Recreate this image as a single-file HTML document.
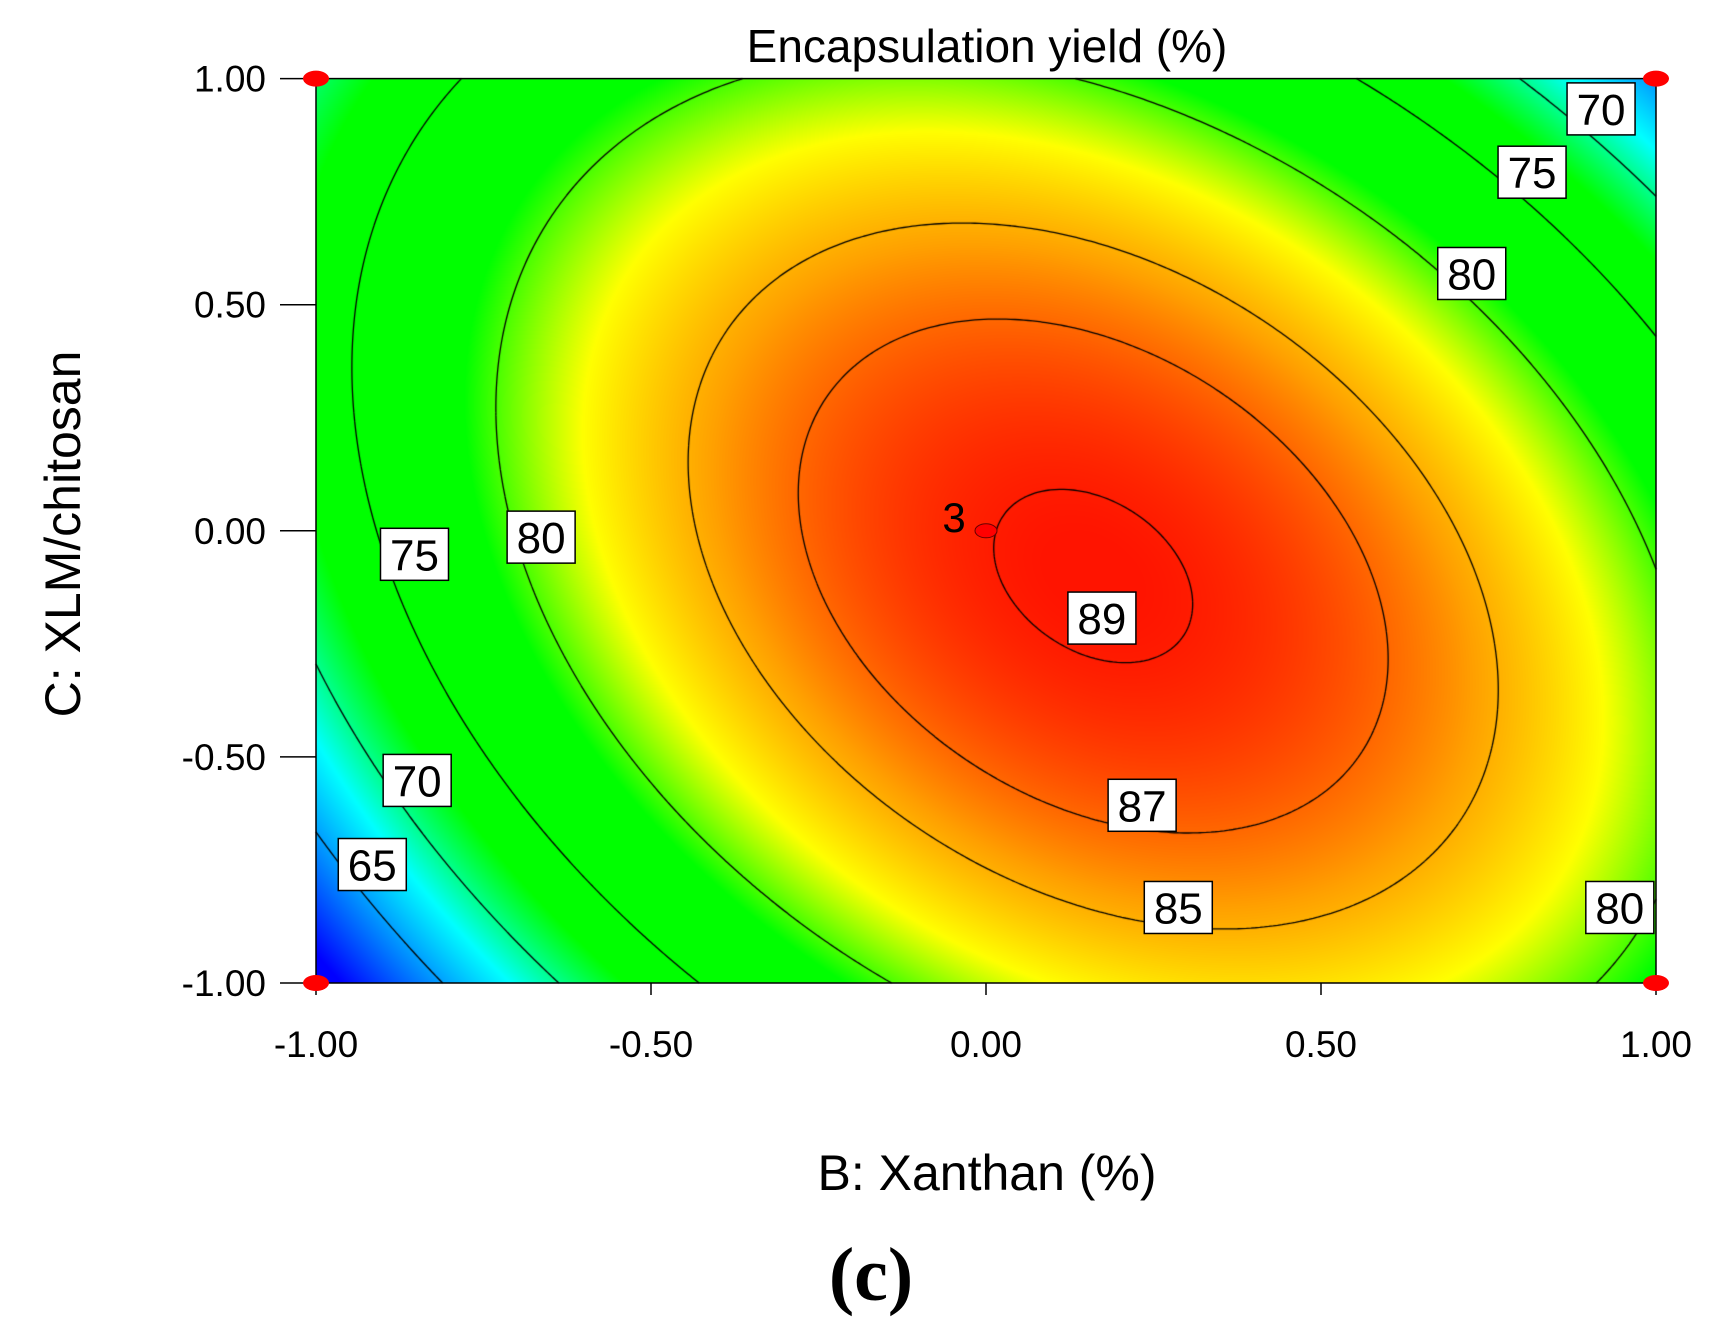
<!DOCTYPE html>
<html><head><meta charset="utf-8">
<style>
html,body{margin:0;padding:0;background:#fff;}
#wrap{position:relative;width:1720px;height:1324px;overflow:hidden;font-family:"Liberation Sans",sans-serif;}
canvas{position:absolute;left:0;top:0;}
svg{position:absolute;left:0;top:0;}
</style></head>
<body>
<div id="wrap">
<canvas id="cv" width="1720" height="1324"></canvas>
<svg id="sv" width="1720" height="1324"></svg>
</div>
<script>
// Model: yield = c0 + a*B + b*C + d*B*C + e*B^2 + g*C^2
const coefNames = ["c0","a","b","d","e","g"];
const coefValues = [88.95, 3.51, -0.52, -6.5, -13, -7.8];
const contourLevels = [65, 70, 75, 80, 85, 87, 89];
const xTicks = [-1, -0.5, 0, 0.5, 1];
const yTicks = [-1, -0.5, 0, 0.5, 1];
const xTickLabels = ["-1.00","-0.50","0.00","0.50","1.00"];
const yTickLabels = ["-1.00","-0.50","0.00","0.50","1.00"];
const designB = [-1, 1, -1, 1, 0];
const designC = [-1, -1, 1, 1, 0];
const labelTexts = ["70","75","80","75","80","70","65","89","87","85","80"];
const labelB = [0.918, 0.815, 0.725, -0.853, -0.664, -0.849, -0.916, 0.173, 0.233, 0.287, 0.946];
const labelC = [0.933, 0.793, 0.569, -0.052, -0.014, -0.552, -0.738, -0.193, -0.607, -0.833, -0.833];

const L=316,R=1656,T=78.6,Bt=983;
const sx=v=>L+(v+1)/2*(R-L);
const sy=v=>Bt-(v+1)/2*(Bt-T);
const [c0,a,b,d,e,g]=coefValues;
const f=(B,C)=>c0+a*B+b*C+d*B*C+e*B*B+g*C*C;

const stops=[[60,[0,0,255]],[68,[0,255,255]],[72.5,[0,255,0]],[79,[0,255,0]],[82.5,[255,255,0]],[85.5,[255,160,0]],[89.2,[255,20,0]]];
function col(v){
  if(v<=stops[0][0])return stops[0][1];
  for(let i=1;i<stops.length;i++){if(v<=stops[i][0]){const t=(v-stops[i-1][0])/(stops[i][0]-stops[i-1][0]);return stops[i-1][1].map((c,q)=>c+(stops[i][1][q]-c)*t);}}
  return stops[stops.length-1][1];
}
const cv=document.getElementById('cv');const ctx=cv.getContext('2d');
const x0=Math.round(L),x1=Math.round(R),y0=Math.round(T),y1=Math.round(Bt);
const W=x1-x0,H=y1-y0;
const img=ctx.createImageData(W,H);
for(let j=0;j<H;j++){const C=1-2*(j+0.5)/H;for(let i=0;i<W;i++){const B=-1+2*(i+0.5)/W;const c=col(f(B,C));const p=(j*W+i)*4;img.data[p]=c[0];img.data[p+1]=c[1];img.data[p+2]=c[2];img.data[p+3]=255;}}
ctx.putImageData(img,x0,y0);
ctx.strokeStyle='#000';ctx.lineWidth=1.3;
const N=301;
function val(i,j){return f(-1+2*i/N,-1+2*j/N);}
contourLevels.forEach(lv=>{
  ctx.beginPath();
  for(let i=0;i<N;i++)for(let j=0;j<N;j++){
    const v=[val(i,j),val(i+1,j),val(i+1,j+1),val(i,j+1)];
    const P=[[i,j],[i+1,j],[i+1,j+1],[i,j+1]];
    const pts=[];
    for(let q=0;q<4;q++){const v1=v[q],v2=v[(q+1)%4];if((v1<lv)!==(v2<lv)){const t=(lv-v1)/(v2-v1);const A=P[q],Bp=P[(q+1)%4];pts.push([A[0]+(Bp[0]-A[0])*t,A[1]+(Bp[1]-A[1])*t]);}}
    for(let q=0;q+1<pts.length;q+=2){
      ctx.moveTo(sx(-1+2*pts[q][0]/N),sy(-1+2*pts[q][1]/N));
      ctx.lineTo(sx(-1+2*pts[q+1][0]/N),sy(-1+2*pts[q+1][1]/N));
    }
  }
  ctx.stroke();
});
const sv=document.getElementById('sv');const NS='http://www.w3.org/2000/svg';
function mk(t,at,txt){const el=document.createElementNS(NS,t);for(const q in at)el.setAttribute(q,at[q]);if(txt!==undefined)el.textContent=txt;sv.appendChild(el);return el;}
let el;
el=mk('rect',{x:L,y:T,width:R-L,height:Bt-T,fill:'none',stroke:'#000','stroke-width':1.5});


xTicks.forEach((v,i)=>{
  el=mk('line',{x1:sx(v),x2:sx(v),y1:Bt,y2:Bt+12,stroke:'#000','stroke-width':1.5});
  
  
  el=mk('text',{x:sx(v),y:1057,'text-anchor':'middle','font-size':37,fill:'#000'},xTickLabels[i]);
  
  
});
yTicks.forEach((v,i)=>{
  el=mk('line',{x1:L-36,x2:L,y1:sy(v),y2:sy(v),stroke:'#000','stroke-width':1.5});
  
  
  el=mk('text',{x:266,y:sy(v)+13,'text-anchor':'end','font-size':37,fill:'#000'},yTickLabels[i]);
  
  
});
labelTexts.forEach((t,i)=>{
  const cx=sx(labelB[i]),cy=sy(labelC[i]);
  el=mk('rect',{x:cx-34,y:cy-26,width:68,height:52,fill:'#fff',stroke:'#000','stroke-width':1.5});
  
  
  el=mk('text',{x:cx,y:cy+16,'text-anchor':'middle','font-size':44,fill:'#000'},t);
  
  
});
designB.forEach((bv,i)=>{
  const small=designB[i]===0&&designC[i]===0;
  el=mk('ellipse',{cx:sx(bv),cy:sy(designC[i]),rx:small?11:13,ry:small?7:8,fill:'#f00',stroke:small?'#600':'none','stroke-width':1});
  
  
});
el=mk('text',{x:sx(0)-32,y:sy(0)+1,'text-anchor':'middle','font-size':42,fill:'#000'},'3');


el=mk('text',{x:987,y:62,'text-anchor':'middle','font-size':46,fill:'#000'},'Encapsulation yield (%)');


el=mk('text',{x:987,y:1190,'text-anchor':'middle','font-size':50,fill:'#000'},'B: Xanthan (%)');


el=mk('text',{x:0,y:0,'text-anchor':'middle','font-size':50,fill:'#000',transform:'translate(80,534) rotate(-90)'},'C: XLM/chitosan');


el=mk('text',{x:871,y:1300,'text-anchor':'middle','font-size':76,'font-weight':'bold','font-family':'Liberation Serif, serif',fill:'#000'},'(c)');


</script>
</body></html>
